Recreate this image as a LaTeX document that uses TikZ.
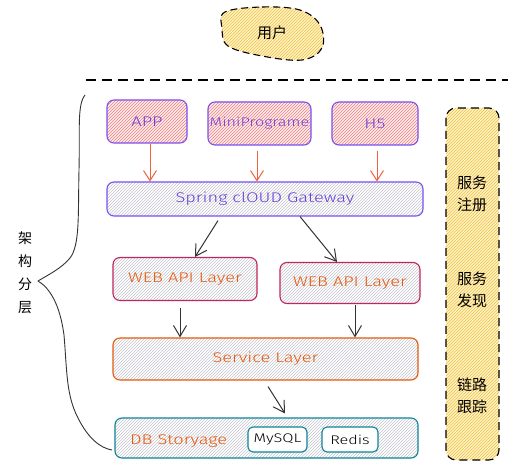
\documentclass[tikz,border=0pt]{standalone}
\usepackage{fontspec}
\setmainfont{Fira Sans}
\newfontfamily\cjk{Noto Sans CJK SC}
\newfontfamily\hand[FakeStretch=1.3]{Fira Sans Light}
\usetikzlibrary{arrows.meta,patterns,calc}
\definecolor{purp}{HTML}{6741D9}
\definecolor{purpline}{HTML}{7950F2}
\definecolor{pinkfill}{HTML}{FFECEC}
\definecolor{pinkhatch}{HTML}{EE8080}
\definecolor{grayhatch}{HTML}{C4C4CE}
\definecolor{webline}{HTML}{C2255C}
\definecolor{orangetxt}{HTML}{E8590C}
\definecolor{arrowor}{HTML}{F0603A}
\definecolor{teal}{HTML}{0C8599}
\definecolor{yelfill}{HTML}{FFF3C8}
\definecolor{yelhatch}{HTML}{EFC040}
\definecolor{dark}{HTML}{333333}
\tikzset{
  sk/.style={rounded corners=7pt, line width=1.1pt},
  clientbox/.style={sk, draw=purpline, preaction={fill=pinkfill}, pattern=north east lines, pattern color=pinkhatch, text=purp, font=\hand\fontsize{14}{16}\selectfont},
  gwbox/.style={sk, draw=purpline, preaction={fill=white}, pattern=north east lines, pattern color=grayhatch, text=purp, font=\hand\fontsize{14}{16}\selectfont},
  webbox/.style={sk, draw=webline, preaction={fill=white}, pattern=north east lines, pattern color=grayhatch, text=orangetxt, font=\hand\fontsize{14}{16}\selectfont},
  svcbox/.style={sk, draw=orangetxt, preaction={fill=white}, pattern=north east lines, pattern color=grayhatch, text=orangetxt, font=\hand\fontsize{14}{16}\selectfont},
  dbbox/.style={sk, draw=teal, preaction={fill=white}, pattern=north east lines, pattern color=grayhatch},
  dblabel/.style={text=orangetxt, font=\hand\fontsize{14}{16}\selectfont, inner sep=0pt},
  storebox/.style={rounded corners=5pt, line width=1.1pt, draw=teal, fill=white, text=black, font=\hand\fontsize{12.5}{14}\selectfont},
  orarrow/.style={draw=arrowor, line width=1pt, -{Straight Barb[length=10pt,width=13pt]}},
  bkarrow/.style={draw=dark, line width=1pt, -{Straight Barb[length=11pt,width=13pt]}},
  cjklabel/.style={font=\cjk\fontsize{15}{22}\selectfont, align=center, text=black},
}
\begin{document}
\begin{tikzpicture}[x=1pt,y=-1pt]
\useasboundingbox (0,0) rectangle (515,468);
\fill[white] (0,0) rectangle (515,468);

% user blob
\path[draw=black, line width=1.1pt, dash pattern=on 7pt off 4pt, preaction={fill=yelfill}, pattern=north east lines, pattern color=yelhatch]
  plot[smooth cycle, tension=0.6] coordinates {(225,12) (262,7) (300,10) (320,25) (322,48) (302,60) (262,56) (228,46) (222,28)};
\node[cjklabel] (user) at (272,33) {用户};

% dashed separator
\draw[line width=1.1pt, dash pattern=on 10pt off 6pt] (86,80) -- (508,80);

% right dashed column
\path[draw=black, line width=1.1pt, dash pattern=on 8pt off 5pt, rounded corners=10pt, preaction={fill=yelfill}, pattern=north east lines, pattern color=yelhatch]
  (446,108) rectangle (499,460);
\node[cjklabel] (reg) at (472,194) {服务\\注册};
\node[cjklabel] (disc) at (472,290) {服务\\发现};
\node[cjklabel] (trace) at (472,396) {链路\\跟踪};

% left label
\node[font=\cjk\fontsize{14}{23}\selectfont, align=center] (layer) at (25,273) {架\\构\\分\\层};

% brace
\draw[line width=0.9pt, line join=round, draw=dark]
  (85,95) .. controls (77,105) and (80,130) .. (79,170)
  .. controls (78,215) and (80,245) .. (70,258)
  .. controls (62,268) and (48,275) .. (38,281)
  .. controls (50,288) and (60,305) .. (64,335)
  .. controls (67,370) and (66,395) .. (78,418)
  .. controls (88,438) and (100,448) .. (112,450);

% client boxes
\node[clientbox, minimum width=80pt, minimum height=43pt] (app) at (147,121.5) {APP};
\node[clientbox, minimum width=103pt, minimum height=43pt, inner sep=1pt, font=\hand\fontsize{12.5}{14}\selectfont] (mini) at (259.5,123.5) {MiniPrograme};
\node[clientbox, minimum width=86pt, minimum height=43pt] (h5) at (375,123.5) {H5};

% gateway
\node[gwbox, minimum width=316pt, minimum height=34pt] (gw) at (265,199) {Spring clOUD Gateway};

% web api layers
\node[webbox, minimum width=144pt, minimum height=43pt] (webl) at (185,279) {WEB API Layer};
\node[webbox, minimum width=140pt, minimum height=41pt] (webr) at (350,283) {WEB API Layer};

% service
\node[svcbox, minimum width=305pt, minimum height=42pt] (svc) at (265.5,359) {Service Layer};

% db
\node[dbbox, minimum width=303pt, minimum height=40pt] (db) at (266.5,438) {};
\node[dblabel, anchor=west] (dbl) at (130,441) {DB Storyage};
\node[storebox, minimum width=59pt, minimum height=25pt, inner sep=1pt] (mysql) at (277.5,439.5) {MySQL};
\node[storebox, minimum width=56pt, minimum height=25pt, inner sep=1pt] (redis) at (350,439.5) {Redis};

% arrows
\draw[orarrow] ([xshift=3pt]app.south) -- ([xshift=3pt]app.south |- gw.north);
\draw[orarrow] ([xshift=-2.5pt,yshift=-5pt]mini.south) -- ([xshift=-2.5pt]mini.south |- gw.north);
\draw[orarrow] ([xshift=2pt,yshift=-5pt]h5.south) -- ([xshift=2pt]h5.south |- gw.north);
\draw[bkarrow] ([xshift=-47pt,yshift=-4pt]gw.south) -- ([xshift=10pt]webl.north);
\draw[bkarrow] ([xshift=35pt]gw.south) -- ([xshift=-13pt]webr.north);
\draw[bkarrow] ([xshift=-5pt,yshift=-7pt]webl.south) -- ([xshift=-5pt]webl.south |- svc.north);
\draw[bkarrow] ([xshift=5pt,yshift=-1pt]webr.south) -- ([xshift=5pt]webr.south |- svc.north);
\draw[bkarrow] ([xshift=2.5pt,yshift=-6pt]svc.south) -- ([xshift=18.5pt,yshift=4pt]db.north);
\end{tikzpicture}
\end{document}
